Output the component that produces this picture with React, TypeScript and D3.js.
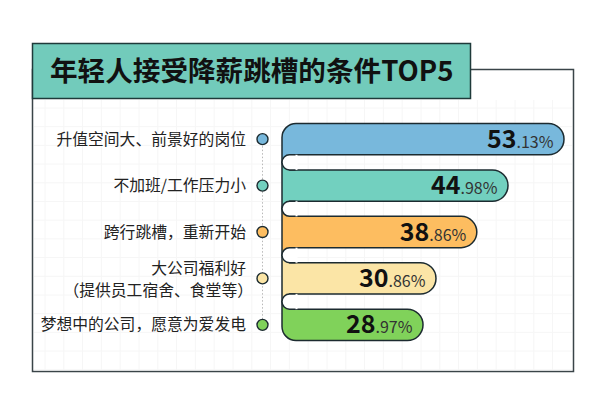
import React from "react";
import * as d3 from "d3";

const titleText = "年轻人接受降薪跳槽的条件TOP5";
const categories = [
  ["升值空间大、前景好的岗位"],
  ["不加班/工作压力小"],
  ["跨行跳槽，重新开始"],
  ["大公司福利好", "（提供员工宿舍、食堂等）"],
  ["梦想中的公司，愿意为爱发电"],
];
const wholeParts = ["53", "44", "38", "30", "28"];
const fracParts = [".13%", ".98%", ".86%", ".86%", ".97%"];
const values = [53.13, 44.98, 38.86, 30.86, 28.97];
const fills = ["#78b8dc", "#72d0bf", "#fdbd60", "#fbe5a6", "#80d25a"];
const dark = "#1c2b30";

const W = 600;
const H = 413;
const gridX = d3.range(45, 560, 18.8);
const gridY = d3.range(108, 370, 18.7);
const x = d3.scaleLinear().domain([0, 28.97, 30.86, 44.98, 53.13]).range([282, 423, 436, 508, 564]);
const y = d3.scaleBand<number>().domain(d3.range(5)).range([123.5, 340.5]).paddingInner(0.325).paddingOuter(0);

function barPath(i: number): string {
  const bw = y.bandwidth();
  const top = y(i)!;
  const bot = top + bw;
  const gap = y.step() - bw;
  const x0 = x(0);
  const x1 = x(values[i]);
  const r = bw / 2;
  const p = d3.path();
  const first = i === 0;
  const last = i === values.length - 1;
  const cr = 14;
  if (first) {
    p.moveTo(x0, top + cr);
    p.arcTo(x0, top, x0 + cr, top, cr);
  } else {
    p.moveTo(x0, top - gap / 2);
    p.lineTo(x0 + gap / 2, top - gap / 2);
    p.lineTo(x0 + gap / 2, top);
  }
  p.lineTo(x1 - r, top);
  p.arc(x1 - r, top + r, r, -Math.PI / 2, Math.PI / 2);
  if (last) {
    p.lineTo(x0 + cr, bot);
    p.arcTo(x0, bot, x0, bot - cr, cr);
  } else {
    p.lineTo(x0 + gap / 2, bot);
    p.lineTo(x0 + gap / 2, bot + gap / 2);
    p.lineTo(x0, bot + gap / 2);
  }
  p.closePath();
  return p.toString();
}

function gapPath(i: number): string {
  const bw = y.bandwidth();
  const bot = y(i)! + bw;
  const gap = y.step() - bw;
  const x0 = x(0);
  const r = gap / 2;
  const p = d3.path();
  p.moveTo(x0 + r + 6, bot);
  p.lineTo(x0 + r, bot);
  p.arc(x0 + r, bot + r, r, -Math.PI / 2, Math.PI / 2, true);
  p.lineTo(x0 + r + 6, bot + gap);
  return p.toString();
}

const font = "'Noto Sans CJK SC', 'Noto Sans', sans-serif";

export default function App() {
  const cy = (i: number) => y(i)! + y.bandwidth() / 2;
  return (
    <svg width={W} height={H} viewBox={`0 0 ${W} ${H}`} style={{ position: "absolute", left: 0, top: 0, background: "#fff" }} fontFamily={font}>
      <rect x={32.5} y={69.5} width={541} height={302} fill="#fff" stroke="#3a4448" strokeWidth={1.5} />
      <g stroke="#f6f6f6" strokeWidth={1}>
        {gridX.map((g) => <line key={g} x1={g} x2={g} y1={100} y2={370} />)}
        {gridY.map((g) => <line key={g} x1={34} x2={572} y1={g} y2={g} />)}
      </g>
      <rect x={32.5} y={43.5} width={438} height={55} fill="#72cbbb" stroke="#1f3a3a" strokeWidth={1.5} />
      <text x={50} y={81} fontSize={27.6} fontWeight={700} fill="#111">{titleText}</text>

      <line x1={262.5} x2={262.5} y1={cy(0)} y2={cy(4)} stroke="#b8b8b8" strokeWidth={1} strokeDasharray="1.5 2" />
      {categories.map((lines, i) => (
        <g key={i}>
          <circle cx={262.5} cy={cy(i)} r={5.5} fill={fills[i]} stroke={dark} strokeWidth={1.4} />
          {lines.map((l, j) => (
            <text
              key={j}
              x={l.endsWith("）") ? 253 : 246}
              y={cy(i) + 5.5 + (lines.length > 1 ? (j - 0.5) * 22 + 1.5 : 0)}
              textAnchor="end"
              fontSize={15.8}
              fill="#222"
            >
              {l}
            </text>
          ))}
        </g>
      ))}

      {values.map((v, i) => (
        <path key={i} d={barPath(i)} fill={fills[i]} stroke={dark} strokeWidth={1.5} strokeLinejoin="round" />
      ))}
      {d3.range(4).map((i) => (
        <g key={i}>
          <rect x={x(0) + 7.5} y={y(i)! + y.bandwidth()} width={8} height={y.step() - y.bandwidth()} fill="#fff" />
          <path d={gapPath(i)} fill="#fff" stroke={dark} strokeWidth={1.5} />
        </g>
      ))}
      {values.map((v, i) => (
        <text key={i} x={x(v) - 10.5} y={cy(i) + 8.5} textAnchor="end" fill="#111">
          <tspan fontSize={25} fontWeight={700}>{wholeParts[i]}</tspan>
          <tspan fontSize={16} fill="#333">{fracParts[i]}</tspan>
        </text>
      ))}
    </svg>
  );
}
